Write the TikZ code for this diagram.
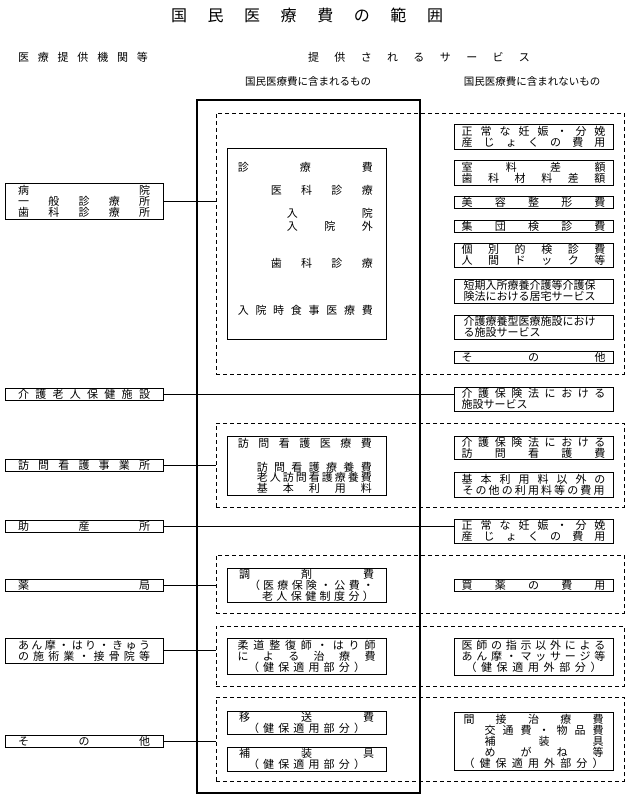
\documentclass[tikz,border=0pt]{standalone}
\usepackage{fontspec}
\setmainfont{Noto Sans CJK JP}
\makeatletter
\def\spr@loop#1#2\spr@end{#1\ifx\relax#2\relax\else\hfill\spr@loop#2\spr@end\fi}
\newcommand\SPR[2]{\makebox[#1][s]{\spr@loop#2\spr@end}}
\makeatother
\newcommand\jf{\fontsize{11}{11}\selectfont}
\newcommand\subf{\fontsize{10.5}{11}\selectfont}
\newcommand\LL[2]{\makebox[#1][l]{#2}}
\newcommand\RR[2]{\makebox[#1][r]{#2}}
\tikzset{
  box/.style={draw, line width=0.9pt, inner sep=0pt, outer sep=0pt, minimum width=159pt, anchor=north west, align=center, font=\jf},
  lbox/.style={box, minimum width=158pt},
  dreg/.style={draw, dash pattern=on 4pt off 3pt, line width=0.8pt, inner sep=0pt, outer sep=0pt, anchor=north west, minimum width=408pt},
  bigbox/.style={draw, line width=1.8pt, inner sep=0pt, outer sep=0pt, anchor=north west},
  txt/.style={inner sep=0pt, font=\jf},
  conn/.style={line width=0.8pt},
}
\begin{document}
\begin{tikzpicture}[x=1pt,y=-1pt]
\useasboundingbox (0,0) rectangle (629,799);
\fill[white] (0,0) rectangle (629,799);
% headers
\node[inner sep=0pt] (title) at (307,15) {\fontsize{16}{16}\selectfont\SPR{272pt}{国民医療費の範囲}};
\node[inner sep=0pt] (h1) at (83,57) {\fontsize{11}{11}\selectfont\SPR{130pt}{医療提供機関等}};
\node[inner sep=0pt] (h2) at (419,57) {\fontsize{11}{11}\selectfont\SPR{222pt}{提供されるサービス}};
\node[inner sep=0pt, font=\subf] (s1) at (308,82) {国民医療費に含まれるもの};
\node[inner sep=0pt, font=\subf] (s2) at (532,82) {国民医療費に含まれないもの};
% dashed regions
\node[dreg, minimum height=261pt] (D1) at (216,113) {};
\node[dreg, minimum height=84pt] (D2) at (216,423) {};
\node[dreg, minimum height=58pt] (D3) at (216,555) {};
\node[dreg, minimum height=60pt] (D4) at (216,626) {};
\node[dreg, minimum height=84pt] (D5) at (216,697) {};
% big box
\node[bigbox, minimum width=223pt, minimum height=693pt] (BIG) at (197,100) {};
% left boxes
\node[lbox, minimum height=36pt] (L1) at (5,183) {\SPR{132pt}{病院}\\\SPR{132pt}{一般診療所}\\\SPR{132pt}{歯科診療所}};
\node[lbox, minimum height=12pt] (L2) at (5,388) {\SPR{132pt}{介護老人保健施設}};
\node[lbox, minimum height=12pt] (L3) at (5,459) {\SPR{132pt}{訪問看護事業所}};
\node[lbox, minimum height=12pt] (L4) at (5,520) {\SPR{132pt}{助産所}};
\node[lbox, minimum height=12pt] (L5) at (5,579) {\SPR{132pt}{薬局}};
\node[lbox, minimum height=25pt] (L6) at (5,638) {\SPR{132pt}{あん摩・はり・きゅう}\\\SPR{132pt}{の施術業・接骨院等}};
\node[lbox, minimum height=12pt] (L7) at (5,735) {\SPR{132pt}{その他}};
% inner included boxes
\node[box, minimum height=191pt] (I1) at (227,148) {};
\node[txt, anchor=east] (i1a) at (373,167) {\SPR{135pt}{診療費}};
\node[txt, anchor=east] (i1b) at (373,190) {\SPR{102pt}{医科診療}};
\node[txt, anchor=east] (i1c) at (373,213) {\SPR{86pt}{入院}};
\node[txt, anchor=east] (i1d) at (373,226) {\SPR{86pt}{入院外}};
\node[txt, anchor=east] (i1e) at (373,263) {\SPR{102pt}{歯科診療}};
\node[txt, anchor=east] (i1f) at (373,310) {\SPR{135pt}{入院時食事医療費}};
\node[box, minimum height=59pt] (I2) at (227,436) {};
\node[txt, anchor=east] (i2a) at (372,443) {\SPR{134pt}{訪問看護医療費}};
\node[txt, anchor=east] (i2b) at (372,467) {\SPR{115pt}{訪問看護療養費}};
\node[txt, anchor=east] (i2c) at (372,477.5) {\SPR{115pt}{老人訪問看護療養費}};
\node[txt, anchor=east] (i2d) at (372,488) {\SPR{115pt}{基本利用料}};
\node[box, minimum height=34pt] (I3) at (227,568) {\RR{135pt}{\SPR{135pt}{調剤費}}\\\RR{135pt}{\SPR{125pt}{（医療保険・公費・}}\\\RR{135pt}{\SPR{112pt}{老人保健制度分）}}};
\node[box, minimum height=36pt] (I4) at (227,638) {\SPR{138pt}{柔道整復師・はり師}\\\SPR{138pt}{による治療費}\\\SPR{117pt}{（健保適用部分）}};
\node[box, minimum height=23pt] (I5) at (227,711) {\SPR{135pt}{移送費}\\\SPR{117pt}{（健保適用部分）}};
\node[box, minimum height=24pt] (I6) at (227,747) {\SPR{135pt}{補装具}\\\SPR{117pt}{（健保適用部分）}};
% right boxes
\node[box, minimum height=25pt] (R1) at (454,124) {\SPR{144pt}{正常な妊娠・分娩}\\\SPR{144pt}{産じょくの費用}};
\node[box, minimum height=25pt] (R2) at (454,160) {\SPR{144pt}{室料差額}\\\SPR{144pt}{歯科材料差額}};
\node[box, minimum height=12pt] (R3) at (454,196) {\SPR{144pt}{美容整形費}};
\node[box, minimum height=12pt] (R4) at (454,220) {\SPR{144pt}{集団検診費}};
\node[box, minimum height=24pt] (R5) at (454,243) {\SPR{144pt}{個別的検診費}\\\SPR{144pt}{人間ドック等}};
\node[box, minimum height=24pt] (R6) at (454,279) {\LL{140pt}{短期入所療養介護等介護保}\\\LL{140pt}{険法における居宅サービス}};
\node[box, minimum height=24pt] (R7) at (454,315) {\LL{140pt}{介護療養型医療施設におけ}\\\LL{140pt}{る施設サービス}};
\node[box, minimum height=12pt] (R8) at (454,351) {\SPR{144pt}{その他}};
\node[box, minimum height=24pt] (R9) at (454,387) {\SPR{144pt}{介護保険法における}\\\LL{144pt}{施設サービス}};
\node[box, minimum height=23pt] (R10) at (454,436) {\SPR{144pt}{介護保険法における}\\\SPR{144pt}{訪問看護費}};
\node[box, minimum height=25pt] (R11) at (454,472) {\SPR{144pt}{基本利用料以外の}\\\SPR{142pt}{その他の利用料等の費用}};
\node[box, minimum height=24pt] (R12) at (454,519) {\SPR{144pt}{正常な妊娠・分娩}\\\SPR{144pt}{産じょくの費用}};
\node[box, minimum height=12pt] (R13) at (454,579) {\SPR{144pt}{買薬の費用}};
\node[box, minimum height=37pt] (R14) at (454,638) {\SPR{144pt}{医師の指示以外による}\\\SPR{144pt}{あん摩・マッサージ等}\\\SPR{136pt}{（健保適用外部分）}};
\node[box, minimum height=58pt] (R15) at (454,712) {\RR{140pt}{\SPR{140pt}{間接治療費}}\\\RR{140pt}{\SPR{119pt}{交通費・物品費}}\\\RR{140pt}{\SPR{119pt}{補装具}}\\\RR{140pt}{\SPR{119pt}{めがね等}}\\\RR{140pt}{\SPR{140pt}{（健保適用外部分）}}};
% connectors
\draw[conn] (L1.east) -- (L1.east -| D1.west);
\draw[conn] (L2.east) -- (L2.east -| R9.west);
\draw[conn] (L3.east) -- (L3.east -| D2.west);
\draw[conn] (L4.east) -- (L4.east -| R12.west);
\draw[conn] (L5.east) -- (L5.east -| D3.west);
\draw[conn] (L6.east) -- (L6.east -| D4.west);
\draw[conn] (L7.east) -- (L7.east -| D5.west);
\end{tikzpicture}
\end{document}
